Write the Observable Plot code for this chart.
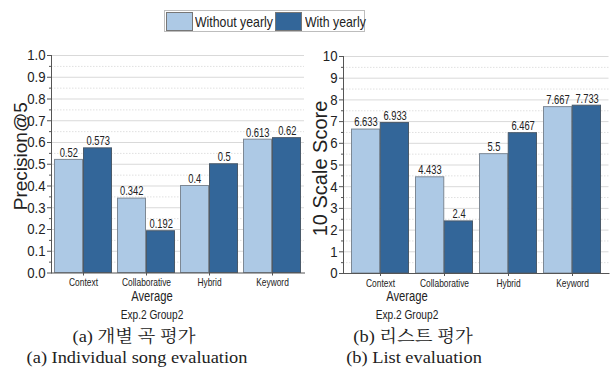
<!DOCTYPE html>
<html>
<head>
<meta charset="utf-8">
<script src="https://cdn.jsdelivr.net/npm/d3@7"></script>
<script src="https://cdn.jsdelivr.net/npm/@observablehq/plot@0.6"></script>
<style>
  html, body { margin: 0; padding: 0; background: #fff; }
  #root { position: relative; width: 610px; height: 374px; overflow: hidden; background: #fff; }
  .abs { position: absolute; }
  .sans { font-family: "Liberation Sans", Arial, sans-serif; color: #222; }
  .cap { position: absolute; text-align: center; white-space: nowrap; }
  .serif { font-family: "Liberation Serif", "Noto Serif CJK KR", "Noto Sans CJK KR", serif; color: #222; font-size: 17px; line-height: 19px; }
  #legendBox { position: absolute; left: 164px; top: 10px; width: 201px; height: 22px; border: 1px solid #bdbdbd; box-sizing: border-box; }
  .sw { position: absolute; top: 12px; width: 27px; height: 19px; border: 1px solid #777; box-sizing: border-box; }
  .lt { position: absolute; top: 12px; font-size: 15px; line-height: 19px; white-space: nowrap; transform-origin: 0 50%; transform: scaleX(0.82); }
</style>
</head>
<body>
<div id="root">
  <div id="legendBox"></div>
  <div id="legend" class="sans"></div>
  <div id="left" class="abs" style="left:0;top:0;"></div>
  <div id="right" class="abs" style="left:300px;top:0;"></div>
  <div class="cap sans" style="left:152px;top:289px;font-size:14px;line-height:14px;transform:translateX(-50%) scaleX(0.8);">Average</div>
  <div class="cap sans" style="left:152px;top:308px;font-size:13px;line-height:14px;transform:translateX(-50%) scaleX(0.78);">Exp.2 Group2</div>
  <div class="cap serif" style="left:134px;top:327px;transform:translateX(-50%) scaleX(1.08);">(a) 개별 곡 평가</div>
  <div class="cap serif" style="left:137px;top:348px;transform:translateX(-50%) scaleX(1.08);">(a) Individual song evaluation</div>
  <div class="cap sans" style="left:407px;top:289px;font-size:14px;line-height:14px;transform:translateX(-50%) scaleX(0.8);">Average</div>
  <div class="cap sans" style="left:407px;top:308px;font-size:13px;line-height:14px;transform:translateX(-50%) scaleX(0.78);">Exp.2 Group2</div>
  <div class="cap serif" style="left:413px;top:327px;transform:translateX(-50%) scaleX(1.08);">(b) 리스트 평가</div>
  <div class="cap serif" style="left:414px;top:348px;transform:translateX(-50%) scaleX(1.08);">(b) List evaluation</div>
</div>
<script>
// ---- data ----
const categories = ["Context", "Collaborative", "Hybrid", "Keyword"];
const seriesNames = ["Without yearly", "With yearly"];
const seriesColors = ["#adc9e5", "#336699"];
const precisionWithout = [0.52, 0.342, 0.4, 0.613];
const precisionWith = [0.573, 0.192, 0.5, 0.62];
const scoreWithout = [6.633, 4.433, 5.5, 7.667];
const scoreWith = [6.933, 2.4, 6.467, 7.733];
const precisionTicks = [0, 0.1, 0.2, 0.3, 0.4, 0.5, 0.6, 0.7, 0.8, 0.9, 1.0];
const scoreTicks = [0, 1, 2, 3, 4, 5, 6, 7, 8, 9, 10];

const SANS = '"Liberation Sans", Arial, sans-serif';

// legend (absolute pieces)
const legend = document.getElementById("legend");
const swLeft = [166, 275], txLeft = [195, 305];
seriesNames.forEach((name, i) => {
  const sw = document.createElement("div");
  sw.className = "sw";
  sw.style.left = swLeft[i] + "px";
  sw.style.background = seriesColors[i];
  const t = document.createElement("span");
  t.className = "lt";
  t.style.left = txLeft[i] + "px";
  t.textContent = name;
  legend.appendChild(sw);
  legend.appendChild(t);
});

// condense SVG texts horizontally (no narrow font installed)
const squeezeBySize = {"15px": 0.88, "12px": 0.78, "10.5px": 0.8};
function condense(svg, skipText) {
  svg.querySelectorAll("text").forEach(t => {
    if (t.textContent === skipText) return;
    const fs = getComputedStyle(t).fontSize;
    const k = squeezeBySize[fs];
    if (!k) return;
    let x = parseFloat(t.getAttribute("x"));
    if (!isFinite(x) || /em/.test(t.getAttribute("x") || "")) x = 0;
    const tr = t.getAttribute("transform") || "";
    t.setAttribute("transform", `${tr} translate(${x},0) scale(${k},1) translate(${-x},0)`.trim());
  });
}

function panel(opts) {
  const {without, withY, ticks, fmt, label, width, height, marginLeft, marginRight, marginTop, marginBottom,
         paddingInner, paddingOuter, labelDx, labelDy, labelSize} = opts;
  const rows = categories.map((c, i) => ({category: c, without: without[i], withY: withY[i]}));
  const step = ticks[1] - ticks[0];
  const minor = ticks.slice(0, -1).map(t => t + step / 2);
  const bw = d3.scaleBand().domain(categories)
    .range([marginLeft, width - marginRight])
    .paddingInner(paddingInner).paddingOuter(paddingOuter).bandwidth();
  const svg = Plot.plot({
    width, height, marginLeft, marginRight, marginTop, marginBottom,
    style: {fontFamily: SANS, background: "transparent", overflow: "visible", color: "#222"},
    x: {domain: categories, paddingInner, paddingOuter, label: null},
    y: {domain: [ticks[0], ticks[ticks.length - 1]], label: null},
    marks: [
      Plot.ruleY(minor, {stroke: "#e0e0e0", strokeDasharray: "1.5,1.5"}),
      Plot.ruleY(ticks.slice(1), {stroke: "#d9d9d9"}),
      Plot.barY(rows, {x: "category", y: "without", fill: seriesColors[0], stroke: "#7d8894", strokeWidth: 1, insetLeft: 0.5, insetRight: bw / 2}),
      Plot.barY(rows, {x: "category", y: "withY", fill: seriesColors[1], stroke: "#4a5a6a", strokeWidth: 1, insetLeft: bw / 2, insetRight: 0.5}),
      Plot.text(rows, {x: "category", y: "without", text: d => String(d.without), dx: -bw / 4, dy: -7, fontSize: 12, fill: "#222"}),
      Plot.text(rows, {x: "category", y: "withY", text: d => String(d.withY), dx: bw / 4, dy: -7, fontSize: 12, fill: "#222"}),
      Plot.axisY({ticks: minor, tickSize: 2, tickFormat: () => "", stroke: "#555"}),
      Plot.axisY({ticks, tickFormat: fmt, tickSize: 4, tickPadding: 2, fontSize: 15, stroke: "#555", label: null}),
      Plot.axisX({tickSize: 3, tickPadding: 3, fontSize: 10.5, stroke: "#555", label: null}),
      Plot.frame({anchor: "left", stroke: "#555"}),
      Plot.frame({anchor: "bottom", stroke: "#555"}),
      Plot.text([label], {frameAnchor: "left", textAnchor: "middle", rotate: -90, dx: labelDx, dy: labelDy, fontSize: labelSize, fill: "#222"})
    ]
  });
  return {svg, label};
}

const L = panel({
  without: precisionWithout, withY: precisionWith, ticks: precisionTicks, fmt: d3.format(".1f"),
  label: "Precision@5", width: 304, height: 300, marginLeft: 51, marginRight: 0, marginTop: 55, marginBottom: 27.5,
  paddingInner: 0.078, paddingOuter: 0.0156, labelDx: -31, labelDy: -8, labelSize: 19
});
document.getElementById("left").appendChild(L.svg);
condense(L.svg, L.label);

const R = panel({
  without: scoreWithout, withY: scoreWith, ticks: scoreTicks, fmt: d3.format("d"),
  label: "10 Scale Score", width: 310, height: 300, marginLeft: 43, marginRight: 1.5, marginTop: 56, marginBottom: 27,
  paddingInner: 0.096, paddingOuter: 0.1, labelDx: -23, labelDy: 3.5, labelSize: 20
});
document.getElementById("right").appendChild(R.svg);
condense(R.svg, R.label);
</script>
</body>
</html>
